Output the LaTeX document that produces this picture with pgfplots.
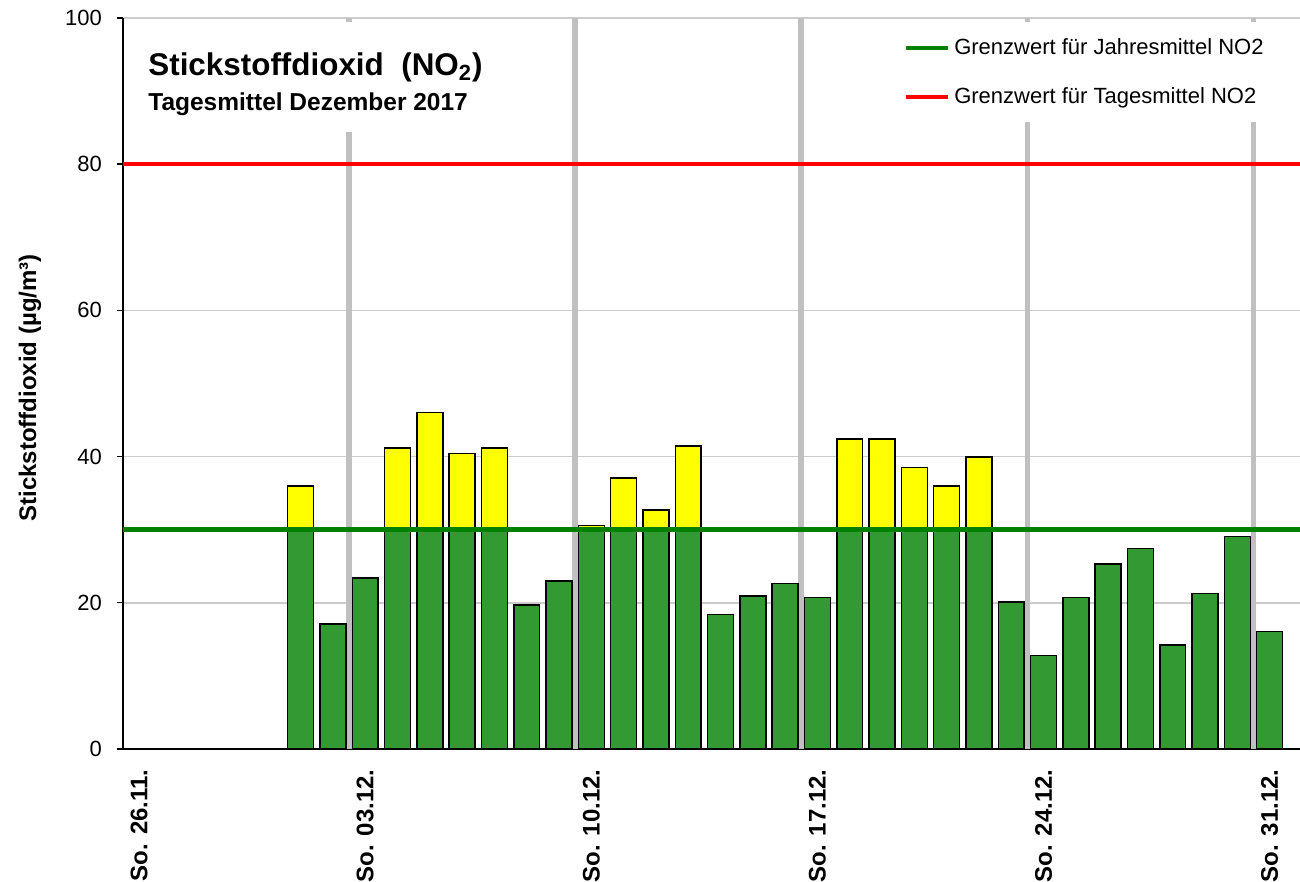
\documentclass[border=0pt]{standalone}
\usepackage{pgfplots}
\pgfplotsset{compat=1.18}
\usepackage{fontspec}
\setmainfont{Liberation Sans}
\definecolor{bargreen}{HTML}{339933}
\definecolor{baryellow}{HTML}{FFFF00}
\definecolor{limgreen}{HTML}{008000}
\definecolor{limred}{HTML}{FF0000}
\definecolor{vgrid}{HTML}{C0C0C0}
\definecolor{hgrid}{HTML}{CCCCCC}
\begin{document}
\begin{tikzpicture}
\begin{axis}[
  scale only axis, width=588.5pt, height=365.5pt,
  xmin=0, xmax=36.44, ymin=0, ymax=100,
  axis x line*=bottom, axis y line*=left,
  axis line style={line width=0.8pt, black, -},
  xtick={0.5,7.5,14.5,21.5,28.5,35.5},
  xticklabels={So. 26.11.,So. 03.12.,So. 10.12.,So. 17.12.,So. 24.12.,So. 31.12.},
  x tick style={draw=none},
  xticklabel style={yshift=-7pt, rotate=90, anchor=east, inner sep=0pt, font=\fontsize{12}{14}\selectfont\bfseries},
  extra x ticks={7,14,21,28,35},
  extra x tick labels={},
  extra x tick style={grid=major, major grid style={vgrid, line width=2.85pt}, tick style={draw=none}},
  ytick={0,20,40,60,80,100},
  ymajorgrids, major grid style={hgrid, line width=0.75pt},
  y tick style={black, line width=0.7pt},
  tick align=outside, major tick length=3pt,
  yticklabel style={font=\fontsize{11}{13}\selectfont, xshift=-4pt},
  /pgf/number format/assume math mode=true,
  ylabel={\bfseries Stickstoffdioxid (µg/m³)},
  ylabel style={font=\fontsize{12}{14}\selectfont, at={(axis description cs:-0.079,0.494)}, anchor=center},
  legend style={at={(axis description cs:0.9796,0.9945)}, anchor=north east, draw=none, fill=white,
    font=\fontsize{11}{13}\selectfont, inner ysep=6pt, inner xsep=4pt, row sep=11pt, cells={anchor=west}},
  legend image code/.code={\draw[#1, line width=2.3pt] (0pt,0pt) -- (21pt,0pt);},
]
% yellow: full value for days above 30
\addplot[ybar, bar width=0.8, bar shift=0pt, fill=baryellow, draw=black, line width=0.75pt, forget plot]
coordinates {(5.5,36.0) (8.5,41.2) (9.5,46.0) (10.5,40.4) (11.5,41.2) (14.5,30.55) (15.5,37.1) (16.5,32.7) (17.5,41.45)
(22.5,42.4) (23.5,42.4) (24.5,38.5) (25.5,36.0) (26.5,39.95)};
% green: part up to 30
\addplot[ybar, bar width=0.8, bar shift=0pt, fill=bargreen, draw=black, line width=0.75pt, forget plot]
coordinates {(5.5,30) (6.5,17.1) (7.5,23.4) (8.5,30) (9.5,30) (10.5,30) (11.5,30) (12.5,19.7) (13.5,23.0)
(14.5,30) (15.5,30) (16.5,30) (17.5,30) (18.5,18.4) (19.5,20.9) (20.5,22.65) (21.5,20.7)
(22.5,30) (23.5,30) (24.5,30) (25.5,30) (26.5,30) (27.5,20.1) (28.5,12.8) (29.5,20.7)
(30.5,25.3) (31.5,27.4) (32.5,14.2) (33.5,21.3) (34.5,29.1) (35.5,16.1)};
\addplot[limgreen, line width=2.3pt] coordinates {(0,30) (36.44,30)};
\addlegendentry{Grenzwert für Jahresmittel NO2}
\addplot[limred, line width=2pt] coordinates {(0,80) (36.44,80)};
\addlegendentry{Grenzwert für Tagesmittel NO2}
\node[anchor=north west, fill=white, align=left, inner xsep=4pt, inner ysep=8pt]
  at (axis description cs:0.0144,0.9945)
  {{\rule{0pt}{18.5pt}\fontsize{15.7}{18}\selectfont\bfseries Stickstoffdioxid\ \ (NO\textsubscript{2})}\\[4.5pt]
   {\fontsize{12.25}{14.5}\selectfont\bfseries Tagesmittel Dezember 2017\rule[-1.5pt]{0pt}{1.5pt}}};
\end{axis}
\pgfresetboundingbox
\path[use as bounding box] (-61.5pt,-66.5pt) rectangle (588.5pt,374.5pt);
\end{tikzpicture}
\end{document}
